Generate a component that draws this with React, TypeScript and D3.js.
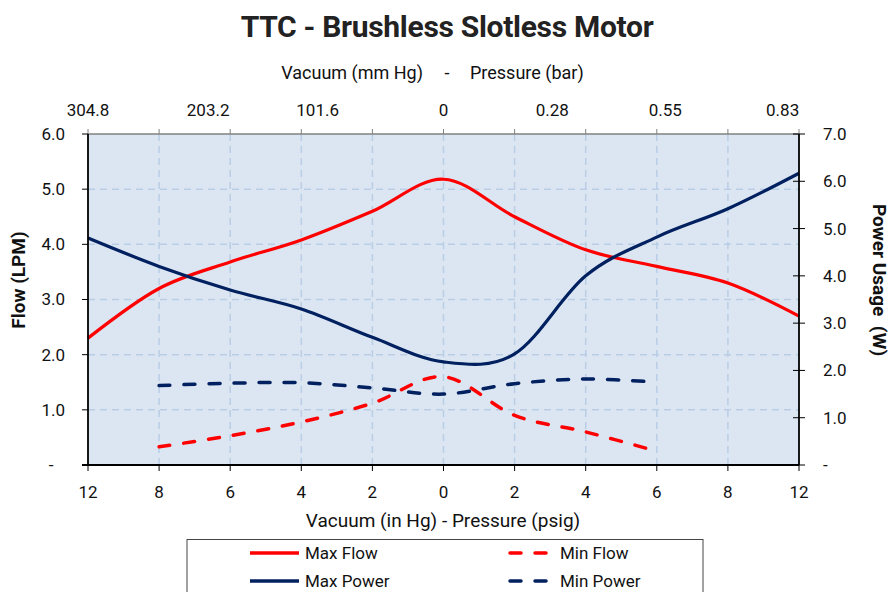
import React from "react";
import * as d3 from "d3";

const categories = ["12", "8", "6", "4", "2", "0", "2", "4", "6", "8", "12"];
const maxFlow = [2.3, 3.2, 3.68, 4.08, 4.6, 5.18, 4.5, 3.9, 3.6, 3.3, 2.7];
const minFlow = [null, 0.33, 0.53, 0.78, 1.12, 1.6, 0.9, 0.6, 0.25, null, null];
const maxPower = [4.8, 4.2, 3.7, 3.3, 2.7, 2.18, 2.35, 4.0, 4.82, 5.42, 6.17];
const minPower = [null, 1.68, 1.73, 1.74, 1.63, 1.5, 1.72, 1.82, 1.75, null, null];
const topLabels = ["304.8", "203.2", "101.6", "0", "0.28", "0.55", "0.83"];
const topLabelPos = [0, 1.69, 3.23, 5, 6.53, 8.12, 9.77];
const leftTicks = [0, 1, 2, 3, 4, 5, 6];
const rightTicks = [0, 1, 2, 3, 4, 5, 6, 7];

const W = 891;
const H = 592;
const X0 = 88, X1 = 799, Y0 = 134, Y1 = 465;
const RED = "#ff0000";
const NAVY = "#002060";
const FONT = "Roboto, 'DejaVu Sans', sans-serif";

export default function App() {
  const x = d3.scaleLinear().domain([0, categories.length - 1]).range([X0, X1]);
  const yL = d3.scaleLinear().domain([0, 6]).range([Y1, Y0]);
  const yR = d3.scaleLinear().domain([0, 7]).range([Y1, Y0]);

  const mk = (vals: (number | null)[], y: d3.ScaleLinear<number, number>) =>
    d3
      .line<number | null>()
      .defined((d) => d != null)
      .x((_, i) => x(i))
      .y((d) => y(d as number))
      .curve(d3.curveCardinal.tension(0))(vals) || "";

  const fmt = (v: number) => (v === 0 ? "-" : v.toFixed(1));
  const grid = "#b9cde5";

  return (
    <svg
      width={W}
      height={H}
      style={{ position: "absolute", left: 0, top: 0, background: "#fff" }}
      fontFamily={FONT}
    >
      <text x={447} y={37} textAnchor="middle" fontSize={30} fontWeight="bold" fill="#222" letterSpacing={-0.3}>
        TTC - Brushless Slotless Motor
      </text>
      <text x={423} y={79} textAnchor="end" fontSize={18} fill="#111">Vacuum (mm Hg)</text>
      <text x={447} y={79} textAnchor="middle" fontSize={18} fill="#111">-</text>
      <text x={470} y={79} textAnchor="start" fontSize={18} fill="#111">Pressure (bar)</text>

      {topLabels.map((t, i) => (
        <text key={"tl" + i} x={x(topLabelPos[i])} y={116} textAnchor="middle" fontSize={17} fill="#111">
          {t}
        </text>
      ))}

      <rect x={X0} y={Y0} width={X1 - X0} height={Y1 - Y0} fill="#dce6f2" />

      {leftTicks.filter((v) => v > 0 && v < 6).map((v) => (
        <line key={"hg" + v} x1={X0} x2={X1} y1={yL(v)} y2={yL(v)} stroke={grid} strokeWidth={1.5} strokeDasharray="7,5" />
      ))}
      {categories.map((_, i) =>
        i > 0 && i < categories.length - 1 ? (
          <line key={"vg" + i} x1={x(i)} x2={x(i)} y1={Y0} y2={Y1} stroke={grid} strokeWidth={1.5} strokeDasharray="7,5" />
        ) : null
      )}

      {/* top axis */}
      <line x1={X0} x2={X1} y1={Y0} y2={Y0} stroke="#808080" strokeWidth={1.5} />
      {categories.map((_, i) => (
        <line key={"tt" + i} x1={x(i)} x2={x(i)} y1={Y0 - 5} y2={Y0} stroke="#808080" strokeWidth={1} />
      ))}

      {/* series */}
      <path d={mk(maxFlow, yL)} fill="none" stroke={RED} strokeWidth={3.2} />
      <path d={mk(maxPower, yR)} fill="none" stroke={NAVY} strokeWidth={3.2} />
      <path d={mk(minFlow, yL)} fill="none" stroke={RED} strokeWidth={3.5} strokeDasharray="11,14" strokeLinecap="round" />
      <path d={mk(minPower, yR)} fill="none" stroke={NAVY} strokeWidth={3.5} strokeDasharray="11,14" strokeLinecap="round" />

      {/* left axis */}
      <line x1={X0} x2={X0} y1={Y0} y2={Y1} stroke="#000" strokeWidth={1.8} />
      {leftTicks.map((v) => (
        <g key={"lt" + v}>
          <line x1={X0 - 6} x2={X0} y1={yL(v)} y2={yL(v)} stroke="#000" strokeWidth={1} />
          <text
            x={v === 0 ? 51 : 65}
            y={yL(v)}
            dy="0.35em"
            textAnchor={v === 0 ? "middle" : "end"}
            fontSize={17}
            fill="#111"
          >
            {fmt(v)}
          </text>
        </g>
      ))}

      {/* right axis */}
      <line x1={X1} x2={X1} y1={Y0} y2={Y1} stroke="#000" strokeWidth={1.8} />
      {rightTicks.map((v) => (
        <g key={"rt" + v}>
          <line x1={X1 - 6} x2={X1 + 6} y1={yR(v)} y2={yR(v)} stroke="#000" strokeWidth={1} />
          <text x={823} y={yR(v)} dy="0.35em" textAnchor="start" fontSize={17} fill="#111">
            {fmt(v)}
          </text>
        </g>
      ))}

      {/* bottom axis */}
      <line x1={X0 - 6} x2={X1} y1={Y1} y2={Y1} stroke="#000" strokeWidth={1.8} />
      {categories.map((c, i) => (
        <g key={"bt" + i}>
          <line x1={x(i)} x2={x(i)} y1={Y1} y2={Y1 + 6} stroke="#000" strokeWidth={1} />
          <text x={x(i)} y={498} textAnchor="middle" fontSize={17} fill="#111">
            {c}
          </text>
        </g>
      ))}
      <text x={443} y={527} textAnchor="middle" fontSize={19} fill="#111">
        Vacuum (in Hg) - Pressure (psig)
      </text>

      {/* axis titles */}
      <text transform="translate(25,280) rotate(-90)" textAnchor="middle" fontSize={19} fontWeight="bold" fill="#111">
        Flow (LPM)
      </text>
      <text
        transform="translate(873,280) rotate(90)"
        textAnchor="middle"
        fontSize={19}
        fontWeight="bold"
        fill="#111"
        style={{ whiteSpace: "pre" }}
      >
        Power Usage  (W)
      </text>

      {/* legend */}
      <rect x={187} y={539.5} width={516} height={70} fill="#fff" stroke="#444" strokeWidth={1} />
      <line x1={250} x2={299} y1={553} y2={553} stroke={RED} strokeWidth={3.5} />
      <text x={305} y={553} dy="0.35em" fontSize={17} fill="#111">Max Flow</text>
      <line x1={510} x2={551} y1={553} y2={553} stroke={RED} strokeWidth={3.5} strokeDasharray="11,14" strokeLinecap="round" />
      <text x={560} y={553} dy="0.35em" fontSize={17} fill="#111">Min Flow</text>
      <line x1={250} x2={299} y1={581} y2={581} stroke={NAVY} strokeWidth={3.5} />
      <text x={305} y={581} dy="0.35em" fontSize={17} fill="#111">Max Power</text>
      <line x1={510} x2={551} y1={581} y2={581} stroke={NAVY} strokeWidth={3.5} strokeDasharray="11,14" strokeLinecap="round" />
      <text x={560} y={581} dy="0.35em" fontSize={17} fill="#111">Min Power</text>
    </svg>
  );
}
